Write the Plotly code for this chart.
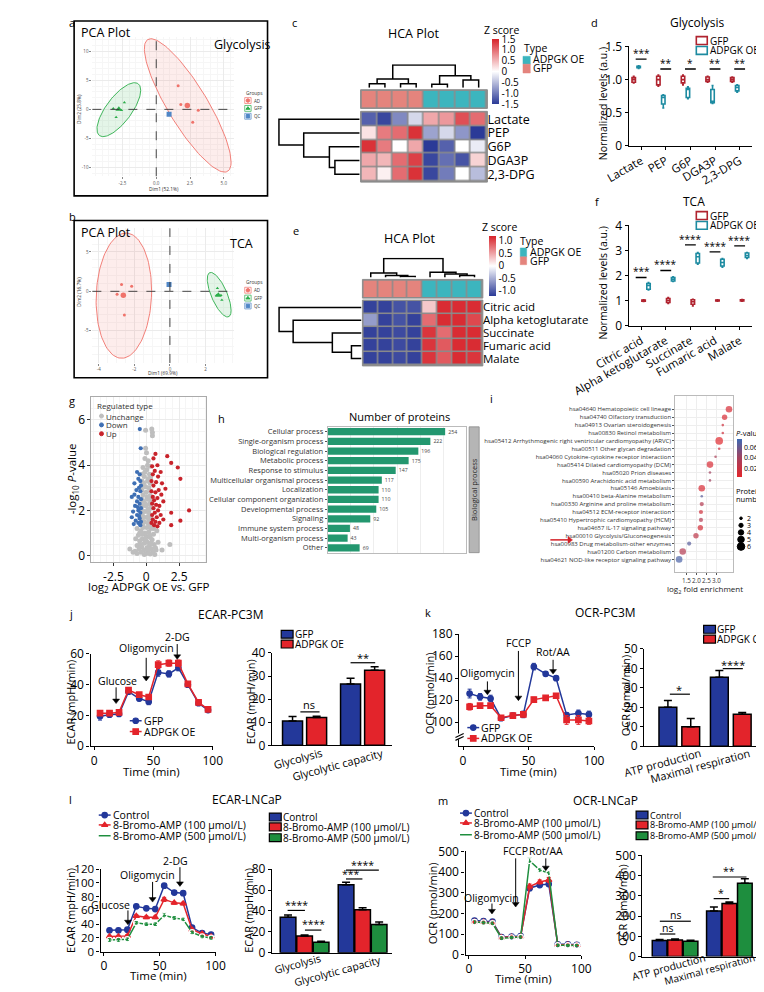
import numpy as np
import plotly.graph_objects as go

W, H = 764, 992
FONT = "Open Sans"

# ======================= DATA =======================
# (a) PCA glycolysis
PCA_A_AD_X = [1.62, 1.82, 3.11, 2.70]
PCA_A_AD_Y = [4.07, 0.85, -0.17, -2.20]
PCA_A_AD_MEAN = [2.30, 0.68]
PCA_A_GFP_X = [-3.18, -2.97, -2.36, -2.57]
PCA_A_GFP_Y = [0.17, -1.36, 1.19, -0.17]
PCA_A_GFP_MEAN = [-2.77, 0.0]
PCA_A_QC = [0.95, -0.85]
PCA_A_ELL_AD = [2.33, 0.68, 3.21, 11.5, -0.85]   # cx, cy, rx, ry, rho
PCA_A_ELL_GFP = [-2.77, -0.05, 1.62, 4.65, 0.72]
# (b) PCA TCA
PCA_B_AD_X = [-2.72, -2.15, -2.97, -2.56]
PCA_B_AD_Y = [0.88, 0.63, -0.38, -3.0]
PCA_B_AD_MEAN = [-2.62, -0.5]
PCA_B_GFP_X = [2.67, 2.62, 2.92, 2.87]
PCA_B_GFP_Y = [0.38, -0.5, -1.1, -0.5]
PCA_B_GFP_MEAN = [2.72, -0.5]
PCA_B_QC = [-0.05, 0.88]
PCA_B_ELL_AD = [-2.59, -0.55, 1.56, 7.95, 0.08]
PCA_B_ELL_GFP = [2.77, -0.43, 0.67, 2.83, -0.7]

# (c) HCA glycolysis
HCA_C_ROWS = ['Lactate', 'PEP', 'G6P', 'DGA3P', '2,3-DPG']
HCA_C_Z = [[-1.2, -1.4, -0.9, -0.3, 0.6, 0.7, 1.2, 1.0],
           [0.2, 0.9, 1.0, 1.4, -0.7, -0.3, -0.8, -1.5],
           [1.4, 0.9, 0.0, 0.6, -1.5, -1.2, 0.0, -0.15],
           [0.6, 0.5, 1.0, 1.3, -1.4, -1.1, -1.3, 0.3],
           [0.5, 0.1, 1.0, 1.4, -1.4, -1.0, 0.0, -0.5]]
HCA_TYPES = [0, 0, 0, 0, 1, 1, 1, 1]   # 0 = GFP, 1 = ADPGK OE
HCA_C_COL_LINK = [(0, 1, 4.3), (2, 3, 4.3), (8, 9, 9.3), (4, 5, 3.7), (6, 7, 8.3), (11, 12, 12.7), (10, 13, 24.3)]
HCA_C_ROW_LINK = [(3, 4, 27), (2, 5, 33), (1, 6, 61), (0, 7, 88)]
# (e) HCA TCA
HCA_E_ROWS = ['Citric acid', 'Alpha ketoglutarate', 'Succinate', 'Fumaric acid', 'Malate']
HCA_E_Z = [[-1.15, -1.15, -1.05, -1.05, 0.3, 1.15, 1.15, 1.15],
           [-0.6, -1.15, -1.05, -1.15, 0.8, 1.15, 1.15, 1.0],
           [-1.15, -1.15, -1.1, -1.15, 1.1, 0.8, 1.15, 1.15],
           [-1.15, -1.15, -1.1, -1.15, 1.1, 0.9, 1.15, 1.15],
           [-1.15, -1.15, -1.1, -1.15, 1.1, 0.9, 1.15, 1.1]]
HCA_E_COL_LINK = [(2, 3, 1.3), (1, 8, 2.3), (0, 9, 5.5), (6, 7, 2.3), (5, 11, 4.3), (4, 12, 6.3), (10, 13, 23)]
HCA_E_ROW_LINK = [(3, 4, 10), (2, 5, 29), (1, 6, 68), (0, 7, 82)]

# (d) glycolysis box stats
GLY_CATS = ['Lactate', 'PEP', 'G6P', 'DGA3P', '2,3-DPG']
GLY_GFP = dict(q1=[0.96, 0.92, 0.95, 0.97, 0.97], med=[1.0, 1.0, 1.0, 1.0, 1.0], q3=[1.03, 1.05, 1.05, 1.04, 1.03],
               lo=[0.95, 0.90, 0.92, 0.96, 0.96], hi=[1.05, 1.07, 1.07, 1.05, 1.04])
GLY_OE = dict(q1=[1.18, 0.63, 0.73, 0.65, 0.83], med=[1.19, 0.73, 0.85, 0.67, 0.88], q3=[1.2, 0.76, 0.87, 0.85, 0.91],
              lo=[1.17, 0.57, 0.71, 0.64, 0.81], hi=[1.21, 0.77, 0.89, 0.91, 0.92])
GLY_SIG = ['***', '**', '*', '**', '**']
GLY_SIG_Y = [1.31, 1.16, 1.16, 1.16, 1.16]
# (f) TCA box stats
TCA_CATS = ['Citric acid', 'Alpha ketoglutarate', 'Succinate', 'Fumaric acid', 'Malate']
TCA_GFP = dict(q1=[0.97, 0.92, 0.85, 0.98, 0.98], med=[1.0, 1.0, 0.95, 1.0, 1.0], q3=[1.02, 1.08, 1.03, 1.02, 1.03],
               lo=[0.96, 0.88, 0.78, 0.97, 0.97], hi=[1.03, 1.12, 1.05, 1.03, 1.04])
TCA_OE = dict(q1=[1.45, 1.78, 2.5, 2.38, 2.72], med=[1.6, 1.85, 2.75, 2.52, 2.8], q3=[1.68, 1.92, 2.88, 2.65, 2.9],
              lo=[1.42, 1.76, 2.45, 2.33, 2.68], hi=[1.72, 1.95, 2.92, 2.68, 2.92])
TCA_SIG = ['***', '****', '****', '****', '****']
TCA_SIG_Y = [1.92, 2.2, 3.22, 2.94, 3.18]

# (g) volcano
VOLC_UNCH_X = [-0.05, 0.42, 0.47, 0.47, -0.05, 0.02, -0.1, 0.15, 0.1, -0.25, 0.3, 0.05, -0.3, 0.25, -0.15, 0.33, -0.32, 0.1,
               0.3, -0.3, -0.05, 0.2, -0.33, 0.33, 0.0, -0.25, 0.3, -0.32, 0.1, 0.33, -0.2, 0.25, -0.3, 0.0, 0.32, -0.33,
               -0.1, 0.2, -0.3, 0.32, 0.05, -0.33, 0.3, -0.15, 0.15, -0.25, 0.28, -0.1, 0.15, -0.2, 0.05, -0.1, 0.15, -0.2,
               0.2, -0.25, 0.05, 0.35, -0.4, 0.2, -0.1, 0.55, -0.6, 0.0, 0.3, -0.3, 0.45, -0.5, 0.1, -0.15, 0.6, -0.7,
               0.25, -0.35, 0.05, 0.4, -0.55, -0.2, 0.75, -0.85, 0.15, 0.5, -0.4, 0.0, -0.7, 0.3, -0.15, 0.65, -1.25,
               1.8, 1.2, -1.0, 0.9, -0.8, 0.8, -0.7, 0.55, -0.5, 0.7, -0.3, 0.25, -0.05, 0.15, -0.45, 0.35]
VOLC_UNCH_Y = [5.55, 5.6, 5.45, 5.3, 4.75, 4.55, 4.3, 4.2, 4.0, 3.9, 3.95, 3.8, 3.6, 3.6, 3.5, 3.45, 3.3, 3.3, 3.2, 3.1, 3.05,
               3.0, 2.9, 2.85, 2.8, 2.7, 2.65, 2.5, 2.5, 2.45, 2.4, 2.3, 2.2, 2.2, 2.1, 2.0, 1.95, 1.9, 1.8, 1.75, 1.7, 1.6,
               1.55, 1.5, 1.45, 1.4, 1.35, 3.7, 3.4, 3.2, 2.6, 2.3, 2.05, 1.7, 1.6, 1.25, 1.25, 1.2, 1.1, 1.05, 1.0, 0.95,
               0.9, 0.85, 0.8, 0.75, 0.7, 0.65, 0.6, 0.55, 0.5, 0.45, 0.45, 0.4, 0.35, 0.3, 0.3, 0.25, 0.25, 0.2, 0.2,
               0.15, 0.15, 0.1, 0.1, 0.08, 0.05, 0.05, 0.3, 0.5, 0.25, 0.15, 0.6, 0.75, 1.1, 1.2, 1.2, 1.0, 0.35, 0.95,
               0.9, 0.7, 0.3, 0.5, 0.55]
VOLC_DOWN_X = [-0.49, -0.42, -0.7, -0.5, -0.6, -0.45, -0.9, -0.4, -0.55, -0.75, -0.45, -0.9, -0.6, -1.1, -0.4, -0.7, -0.5,
               -0.85, -0.4, -0.6, -1.0, -0.45, -0.7, -1.1, -0.5, -0.8, -0.4, -0.6, -0.95, -0.45, -0.55, -0.65]
VOLC_DOWN_Y = [5.6, 4.75, 3.7, 3.6, 3.4, 3.3, 3.2, 3.1, 3.0, 2.9, 2.85, 2.7, 2.6, 2.6, 2.5, 2.4, 2.3, 2.2, 2.1, 2.0, 1.95,
               1.9, 1.8, 1.7, 1.65, 1.55, 1.5, 1.45, 1.4, 1.35, 1.75, 2.15]
VOLC_UP_X = [0.7, 1.6, 0.55, 1.9, 0.85, 0.45, 2.4, 0.65, 1.1, 0.5, 0.9, 2.6, 0.4, 0.75, 1.2, 0.55, 1.46, 0.95, 0.4, 0.7,
             1.15, 0.5, 0.85, 0.6, 1.3, 0.45, 0.75, 1.0, 0.55, 3.26, 0.9, 1.9, 0.65, 0.45, 1.1, 0.8, 0.5, 2.6, 0.7, 0.4,
             1.0, 1.9, 0.6, 0.85, 1.3]
VOLC_UP_Y = [4.5, 4.4, 4.3, 4.1, 4.0, 3.95, 3.9, 3.75, 3.7, 3.6, 3.5, 3.4, 3.3, 3.25, 3.2, 3.1, 2.96, 2.9, 2.85, 2.8, 2.7,
             2.6, 2.55, 2.45, 2.4, 2.3, 2.25, 2.2, 2.1, 2.0, 2.0, 1.9, 1.9, 1.8, 1.8, 1.7, 1.6, 1.55, 1.5, 1.45, 1.45,
             1.35, 1.35, 1.3, 1.6]

# (h) GO bars
GO_CATS = ['Cellular process', 'Single-organism process', 'Biological regulation', 'Metabolic process',
           'Response to stimulus', 'Multicellular organismal process', 'Localization',
           'Cellular component organization', 'Developmental process', 'Signaling', 'Immune system process',
           'Multi-organism process', 'Other']
GO_VALS = [254, 222, 196, 175, 147, 117, 110, 110, 105, 92, 48, 43, 69]

# (i) KEGG dot plot
KEGG_TERMS = ['hsa04640 Hematopoietic cell lineage', 'hsa04740 Olfactory transduction',
              'hsa04913 Ovarian steroidogenesis', 'hsa00830 Retinol metabolism',
              'hsa05412 Arrhythmogenic right ventricular cardiomyopathy (ARVC)', 'hsa00511 Other glycan degradation',
              'hsa04060 Cytokine-cytokine receptor interaction', 'hsa05414 Dilated cardiomyopathy (DCM)',
              'hsa05020 Prion diseases', 'hsa00590 Arachidonic acid metabolism', 'hsa05146 Amoebiasis',
              'hsa00410 beta-Alanine metabolism', 'hsa00330 Arginine and proline metabolism',
              'hsa04512 ECM-receptor interaction', 'hsa05410 Hypertrophic cardiomyopathy (HCM)',
              'hsa04657 IL-17 signaling pathway', 'hsa00010 Glycolysis/Gluconeogenesis',
              'hsa00983 Drug metabolism-other enzymes', 'hsa01200 Carbon metabolism',
              'hsa04621 NOD-like receptor signaling pathway']
KEGG_FE = [3.63, 3.41, 3.32, 3.32, 3.14, 3.14, 2.96, 2.68, 2.68, 2.68, 2.27, 2.27, 2.27, 2.23, 2.23, 2.2, 1.98, 1.64,
           1.32, 1.14]
KEGG_P = [0.01, 0.01, 0.015, 0.015, 0.005, 0.015, 0.035, 0.01, 0.04, 0.04, 0.01, 0.065, 0.03, 0.015, 0.03, 0.012,
          0.025, 0.065, 0.03, 0.07]
KEGG_N = [5, 4, 2, 2, 6, 2, 2, 5, 2, 2, 5, 2, 3, 3, 3, 4, 4, 3, 5, 5]

# Seahorse time points
TIME = [5, 13, 21, 29, 38, 46, 54, 63, 71, 79, 88, 96]
# (j) ECAR-PC3M
ECAR_PC3M_GFP = [19.5, 20.5, 21, 35.5, 31, 29, 48, 47, 51, 40, 28, 23.5]
ECAR_PC3M_GFP_ERR = [2.5, 1.5, 1.5, 1.5, 1.5, 2, 2.5, 2, 2, 1.5, 1.5, 1.5]
ECAR_PC3M_OE = [21.5, 21.5, 22, 36.5, 33.5, 32, 53, 54, 54, 40.5, 28.5, 24]
ECAR_PC3M_OE_ERR = [1.5, 1, 1, 1.5, 1, 1.5, 2.5, 2, 2, 1, 1, 1]
ECAR_BAR_CATS = ['Glycolysis', 'Glycolytic capacity']
ECAR_BAR_GFP = [10.5, 26.5]
ECAR_BAR_GFP_ERR = [2.0, 2.5]
ECAR_BAR_OE = [12.0, 32.5]
ECAR_BAR_OE_ERR = [0.6, 1.5]
# (k) OCR-PC3M
OCR_PC3M_GFP = [126, 123, 121.5, 103.5, 106, 107, 150.5, 144, 140, 106.5, 108, 107]
OCR_PC3M_GFP_ERR = [4, 3, 3, 2, 2, 3, 3, 2, 2, 2, 3, 3]
OCR_PC3M_OE = [114, 115, 115, 104, 106, 107, 120.5, 122, 124, 102, 102, 101]
OCR_PC3M_OE_ERR = [3, 2, 2, 2, 2, 2, 2, 2, 2, 4, 4, 3]
OCR_BAR_CATS = ['ATP production', 'Maximal respiration']
OCR_BAR_GFP = [20.0, 35.5]
OCR_BAR_GFP_ERR = [3.5, 3.5]
OCR_BAR_OE = [10.0, 16.5]
OCR_BAR_OE_ERR = [4.3, 0.8]
# (l) ECAR-LNCaP
ECAR_LN_CTRL = [31, 31, 32, 66, 63, 62, 96, 86, 85, 35, 27, 25]
ECAR_LN_100 = [22, 22, 23, 52, 50, 50, 76, 71, 70, 32, 26, 22]
ECAR_LN_500 = [17, 17, 18, 42, 40, 40, 53, 49, 47, 28, 22, 20]
ECAR_LN_ERR = [2, 2, 2, 2, 2, 2, 3, 2, 2, 2, 2, 2]
ECAR_LN_BAR_CTRL = [34, 65]
ECAR_LN_BAR_100 = [16, 41]
ECAR_LN_BAR_500 = [10, 27]
ECAR_LN_BAR_ERR = [[2, 2.5], [1, 2], [1, 2.5]]
# (m) OCR-LNCaP
OCR_LN_CTRL = [165, 163, 160, 85, 88, 90, 322, 337, 342, 50, 50, 48]
OCR_LN_100 = [160, 158, 155, 83, 86, 88, 330, 352, 362, 48, 48, 46]
OCR_LN_500 = [158, 155, 152, 80, 83, 85, 455, 410, 395, 45, 45, 44]
OCR_LN_ERR = [10, 8, 8, 6, 6, 6, 12, 10, 12, 5, 5, 5]
OCR_LN_BAR_CTRL = [80, 225]
OCR_LN_BAR_100 = [82, 262]
OCR_LN_BAR_500 = [76, 362]
OCR_LN_BAR_ERR = [[5, 20], [5, 8], [5, 22]]

# ======================= HELPERS =======================
fig = go.Figure()
L = {}
ANN = []
SHP = []


def fx(p):
    return p / W


def fy(p):
    return 1 - p / H


def xn(n):
    return 'x' if n == 1 else 'x%d' % n


def yn(n):
    return 'y' if n == 1 else 'y%d' % n


def axes(n, x0, x1, y0, y1, xa=None, ya=None):
    L['xaxis' if n == 1 else 'xaxis%d' % n] = dict(domain=[fx(x0), fx(x1)], anchor=yn(n), **(xa or {}))
    L['yaxis' if n == 1 else 'yaxis%d' % n] = dict(domain=[fy(y1), fy(y0)], anchor=xn(n), **(ya or {}))


def add(tr, n):
    tr.update(xaxis=xn(n), yaxis=yn(n))
    fig.add_trace(tr)


def txt(x, y, s, size=11, color='black', xa='center', ya='middle', angle=0):
    ANN.append(dict(x=fx(x), y=fy(y), xref='paper', yref='paper', text=s, showarrow=False,
                    font=dict(size=size, color=color, family=FONT), xanchor=xa, yanchor=ya, textangle=angle,
                    borderpad=0))


def rect(x0, y0, x1, y1, line='black', width=1.0, fill='rgba(0,0,0,0)', layer='above'):
    SHP.append(dict(type='rect', xref='paper', yref='paper', x0=fx(x0), x1=fx(x1), y0=fy(y0), y1=fy(y1),
                    line=dict(color=line, width=width), fillcolor=fill, layer=layer))


def seg(x0, y0, x1, y1, color='black', width=1.0, dash=None):
    SHP.append(dict(type='line', xref='paper', yref='paper', x0=fx(x0), x1=fx(x1), y0=fy(y0), y1=fy(y1),
                    line=dict(color=color, width=width, dash=dash)))


HID = dict(visible=False, showgrid=False, zeroline=False)
TICKF = dict(size=12, family=FONT, color='black')


def gp(**kw):
    base = dict(showline=True, linecolor='black', linewidth=1.4, ticks='outside', ticklen=3, tickwidth=1.4,
                tickcolor='black', showgrid=False, zeroline=False, tickfont=TICKF)
    base.update(kw)
    return base


BARX = dict(showticklabels=False, ticks='')

CANVAS = 30
axes(CANVAS, 0, W, 0, H, dict(HID, range=[0, W]), dict(HID, range=[H, 0]))


def cmark(x, y, symbol, color, size, lw=1, fill=None):
    add(go.Scatter(x=[x], y=[y], mode='markers', marker=dict(symbol=symbol, color=fill or color, size=size,
                                                              line=dict(color=color, width=lw)),
                   hoverinfo='skip', showlegend=False), CANVAS)


def arrow(x, ytop, ytip, color='black'):
    seg(x, ytop, x, ytip - 3, color=color, width=1)
    cmark(x, ytip - 2.5, 'triangle-down', color, 6, 0.5)


def leg_line(x0, y, color, symbol, label, size=5.5, fs=10.5):
    seg(x0, y, x0 + 13, y, color=color, width=1.5)
    cmark(x0 + 6.5, y, symbol, color, size, 1.2, 'white' if 'open' in symbol else None)
    txt(x0 + 14, y, label, size=fs, xa='left')


def leg_box(x0, y, fill, label, fs=10.5):
    rect(x0, y - 4, x0 + 13, y + 4, line='black', width=1.2, fill=fill)
    txt(x0 + 14, y, label, size=fs, xa='left')


def ellipse(p):
    t = np.linspace(0, 2 * np.pi, 120)
    cx, cy, rx, ry, rho = p
    return cx + rx * np.cos(t), cy + ry * (rho * np.cos(t) + np.sqrt(1 - rho ** 2) * np.sin(t))


def dendro(links, n):
    pos = list(range(n))
    hts = [0.0] * n
    xs, ys = [], []
    for a, b, h in links:
        xs += [pos[a], pos[a], pos[b], pos[b], None]
        ys += [hts[a], h, h, hts[b], None]
        pos.append((pos[a] + pos[b]) / 2)
        hts.append(h)
    return xs, ys


RED_G, GREEN_G, BLUE_G = '#F0736B', '#2BAE4A', '#4F86C6'


# ======================= (a)/(b) PCA =======================
def pca_panel(n, box, dom, xr, yr, xt, xtt, yt, ytt, ell_ad, ell_gfp, adx, ady, admean, gfx, gfy, gfmean, qc,
              title, dimx, dimy, dimx_pos, dimy_pos, leg_y):
    rect(*box, line='black', width=1.6)
    tick = dict(showgrid=True, gridcolor='#EBEBEB', gridwidth=0.8, zeroline=False, showline=False, ticks='outside',
                ticklen=2, tickcolor='#888', tickwidth=0.6, tickfont=dict(size=4.5, color='#555', family=FONT),
                minor=dict(showgrid=True, gridcolor='#F6F6F6'))
    axes(n, *dom, xa=dict(tick, range=xr, tickvals=xt, ticktext=xtt),
         ya=dict(tick, range=yr, tickvals=yt, ticktext=ytt))
    for p, col, fill in [(ell_ad, RED_G, 'rgba(240,115,107,0.13)'), (ell_gfp, GREEN_G, 'rgba(43,174,74,0.13)')]:
        ex, ey = ellipse(p)
        add(go.Scatter(x=ex, y=ey, mode='lines', fill='toself', fillcolor=fill, line=dict(color=col, width=0.9),
                       hoverinfo='skip', showlegend=False), n)
    xr_ref, yr_ref = xn(n), yn(n)
    SHP.append(dict(type='line', xref=xr_ref, yref=yr_ref + ' domain', x0=0, x1=0, y0=0, y1=1,
                    line=dict(color='#333', width=0.9, dash='dash')))
    SHP.append(dict(type='line', xref=xr_ref + ' domain', yref=yr_ref, x0=0, x1=1, y0=0, y1=0,
                    line=dict(color='#333', width=0.9, dash='dash')))
    add(go.Scatter(x=adx, y=ady, mode='markers', marker=dict(color=RED_G, size=3), showlegend=False), n)
    add(go.Scatter(x=[admean[0]], y=[admean[1]], mode='markers', marker=dict(color=RED_G, size=5.5),
                   showlegend=False), n)
    add(go.Scatter(x=gfx, y=gfy, mode='markers', marker=dict(color=GREEN_G, size=3, symbol='triangle-up'),
                   showlegend=False), n)
    add(go.Scatter(x=[gfmean[0]], y=[gfmean[1]], mode='markers',
                   marker=dict(color=GREEN_G, size=6, symbol='triangle-up'), showlegend=False), n)
    add(go.Scatter(x=[qc[0]], y=[qc[1]], mode='markers', marker=dict(color=BLUE_G, size=5, symbol='square'),
                   showlegend=False), n)
    txt(box[0] + 6, box[1] + 12, 'PCA Plot', size=12.5, xa='left')
    txt(title[1], title[2], title[0], size=12.5, xa='left')
    txt(dimx_pos[0], dimx_pos[1], dimx, size=4.8, color='#333')
    txt(dimy_pos[0], dimy_pos[1], dimy, size=4.8, color='#333', angle=-90)
    txt(197, leg_y, 'Groups', size=4.8, color='#333', xa='left')
    for i, (col, sym, lab) in enumerate([(RED_G, 'circle', 'AD'), (GREEN_G, 'triangle-up', 'GFP'),
                                         (BLUE_G, 'square', 'QC')]):
        yy = leg_y + 8 + 8 * i
        rect(197, yy - 3, 204, yy + 3, line=col, width=0.7)
        cmark(200.5, yy, sym, col, 3.5)
        txt(206, yy, lab, size=4.5, color='#333', xa='left')


pca_panel(1, (10, 4, 222, 182), (30, 185, 20, 162), [-4.73, 5.74], [-11.53, 12.54],
          [-2.5, 0, 2.5, 5], ['-2.5', '0.0', '2.5', '5.0'], [-10, -5, 0, 5, 10], ['-10', '-5', '0', '5', '10'],
          PCA_A_ELL_AD, PCA_A_ELL_GFP, PCA_A_AD_X, PCA_A_AD_Y, PCA_A_AD_MEAN, PCA_A_GFP_X, PCA_A_GFP_Y,
          PCA_A_GFP_MEAN, PCA_A_QC, ('Glycolysis', 162, 28), 'Dim1 (52.1%)', 'Dim2 (25.8%)', (108, 175),
          (16, 94), 77)
pca_panel(2, (10, 207, 222, 367), (30, 185, 215, 352), [-4.36, 3.59], [-9.1, 8.0],
          [-4, -2, 0, 2], ['-4', '-2', '0', '2'], [-5, 0, 5], ['-5', '0', '5'],
          PCA_B_ELL_AD, PCA_B_ELL_GFP, PCA_B_AD_X, PCA_B_AD_Y, PCA_B_AD_MEAN, PCA_B_GFP_X, PCA_B_GFP_Y,
          PCA_B_GFP_MEAN, PCA_B_QC, ('TCA', 180, 230), 'Dim1 (69.9%)', 'Dim2 (16.7%)', (107, 362),
          (16, 280), 270)
txt(3, 6, 'a', size=11, xa='left')
txt(3, 203, 'b', size=11, xa='left')

# ======================= (c)/(e) HCA =======================
HM_CS = [[0, '#2B3A97'], [0.5, '#FFFFFF'], [1, '#D7232A']]
TYPE_CS = [[0, '#E4847D'], [0.5, '#E4847D'], [0.5, '#3CB5BE'], [1, '#3CB5BE']]


def hca_panel(nm, nt, ncd, nrd, x0, x1, ty0, ty1, hy0, hy1, cdy0, rdx0, rows, z, zr, ticks, colink, rowlink,
              cbar, rowfont):
    nrow = len(rows)
    rect(x0 - 1, hy0 - 1, x1 + 1, hy1 + 1, line='#8C8C8C', width=1, fill='#8C8C8C', layer='below')
    rect(x0 - 1, ty0 - 1, x1 + 1, ty1 + 1, line='#8C8C8C', width=1, fill='#8C8C8C', layer='below')
    axes(nm, x0, x1, hy0, hy1, dict(HID, range=[-0.5, 7.5]),
         dict(range=[nrow - 0.5, -0.5], side='right', tickvals=list(range(nrow)), ticktext=rows, ticks='',
              showgrid=False, zeroline=False, showline=False,
              tickfont=dict(size=rowfont, family=FONT, color='black')))
    add(go.Heatmap(z=z, x=list(range(8)), y=list(range(nrow)), colorscale=HM_CS, zmin=-zr, zmax=zr, xgap=1.5,
                   ygap=1.5, hoverinfo='skip',
                   colorbar=dict(x=fx(cbar[0]), xanchor='left', xpad=0, ypad=0, thickness=7, lenmode='pixels',
                                 len=cbar[2] - cbar[1], y=fy((cbar[1] + cbar[2]) / 2), yanchor='middle',
                                 tickvals=ticks, ticktext=[('%g' % v if v == 0 else '%.1f' % v) for v in ticks],
                                 ticks='', outlinewidth=0, tickfont=dict(size=10, family=FONT))), nm)
    axes(nt, x0, x1, ty0, ty1, dict(HID, range=[-0.5, 7.5]), dict(HID, range=[-0.5, 0.5]))
    add(go.Heatmap(z=[HCA_TYPES], x=list(range(8)), y=[0], colorscale=TYPE_CS, zmin=0, zmax=1, xgap=1.5,
                   showscale=False, hoverinfo='skip'), nt)
    cx, cy = dendro(colink, 8)
    top = max(h for _, _, h in colink)
    axes(ncd, x0, x1, cdy0, ty0 - 3, dict(HID, range=[-0.5, 7.5]), dict(HID, range=[0, top + 0.8]))
    add(go.Scatter(x=cx, y=cy, mode='lines', line=dict(color='black', width=1.5), hoverinfo='skip',
                   showlegend=False), ncd)
    rx_, ry_ = dendro(rowlink, nrow)
    rtop = max(h for _, _, h in rowlink)
    axes(nrd, rdx0, x0 - 2, hy0, hy1, dict(HID, range=[rtop + 1.5, 0]), dict(HID, range=[nrow - 0.5, -0.5]))
    add(go.Scatter(x=ry_, y=rx_, mode='lines', line=dict(color='black', width=1.5), hoverinfo='skip',
                   showlegend=False), nrd)


hca_panel(3, 4, 5, 6, 325, 462, 75, 92, 97, 167, 48, 233, HCA_C_ROWS, HCA_C_Z, 1.5,
          [1.5, 1.0, 0.5, 0, -0.5, -1.0, -1.5], HCA_C_COL_LINK, HCA_C_ROW_LINK, (468, 23, 88), 12.5)
txt(248, 6, 'c', size=11, xa='left')
txt(382, 17, 'HCA Plot', size=12.5)
txt(458, 13, 'Z score', size=10.5, xa='left')
txt(502, 32, 'Type', size=10.5, xa='left')
rect(502, 40, 510, 48, line='#3CB5BE', width=0.5, fill='#3CB5BE')
rect(502, 48, 510, 57, line='#E4847D', width=0.5, fill='#E4847D')
txt(512, 43, 'ADPGK OE', size=10.5, xa='left')
txt(512, 52, 'GFP', size=10.5, xa='left')

hca_panel(8, 9, 10, 11, 327, 457, 268, 285, 289, 354, 245, 233, HCA_E_ROWS, HCA_E_Z, 1.2,
          [1.0, 0.5, 0, -0.5, -1.0], HCA_E_COL_LINK, HCA_E_ROW_LINK, (465, 223, 283), 11.5)
txt(249, 217, 'e', size=11, xa='left')
txt(378, 225, 'HCA Plot', size=12.5)
txt(456, 214, 'Z score', size=10.5, xa='left')
txt(498, 228, 'Type', size=10.5, xa='left')
rect(499, 235, 506, 244, line='#3CB5BE', width=0.5, fill='#3CB5BE')
rect(499, 244, 506, 252, line='#E4847D', width=0.5, fill='#E4847D')
txt(509, 239, 'ADPGK OE', size=10.5, xa='left')
txt(509, 248, 'GFP', size=10.5, xa='left')

# ======================= (d)/(f) box plots =======================
C_GFP, C_OE = '#B0232F', '#1D8BA1'


def box_panel(n, y0, y1, cats, gfp, oe, yr, yt, ytt, sig, sigy, title, tpos, letter, lpos, leg_y):
    axes(n, 618, 753, y0, y1,
         gp(range=[-0.5, 4.5], tickvals=list(range(5)), ticktext=cats, tickangle=-30,
            tickfont=dict(size=11.5, family=FONT, color='black')),
         gp(range=yr, tickvals=yt, ticktext=ytt))
    for d, col, nm in [(gfp, C_GFP, 'GFP'), (oe, C_OE, 'ADPGK OE')]:
        add(go.Box(x=list(range(5)), q1=d['q1'], median=d['med'], q3=d['q3'], lowerfence=d['lo'],
                   upperfence=d['hi'], name=nm, line=dict(color=col, width=1.6), fillcolor='white',
                   whiskerwidth=0.6, boxpoints=False, hoverinfo='skip', showlegend=False), n)
    for i, (s, yv) in enumerate(zip(sig, sigy)):
        SHP.append(dict(type='line', xref=xn(n), yref=yn(n), x0=i - 0.22, x1=i + 0.22, y0=yv, y1=yv,
                        line=dict(color='black', width=1.3)))
        ANN.append(dict(x=i, y=yv, xref=xn(n), yref=yn(n), text=s, showarrow=False, yanchor='bottom',
                        font=dict(size=10, family=FONT), yshift=-3))
    txt(tpos[0], tpos[1], title, size=12)
    txt(lpos[0], lpos[1], letter, size=11, xa='left')
    txt(590, (y0 + y1) / 2 + 8, 'Normalized levels (a.u.)', size=10.5, angle=-90)
    rect(692, leg_y - 4, 704, leg_y + 4, line=C_GFP, width=1.6)
    rect(692, leg_y + 6, 704, leg_y + 14, line=C_OE, width=1.6)
    txt(706, leg_y, 'GFP', size=10, xa='left')
    txt(706, leg_y + 10, 'ADPGK OE', size=10, xa='left')


box_panel(7, 30, 131, GLY_CATS, GLY_GFP, GLY_OE, [0, 1.5], [0, 0.5, 1, 1.5], ['0', '0.5', '1.0', '1.5'],
          GLY_SIG, GLY_SIG_Y, 'Glycolysis', (693, 6), 'd', (575, 6), 24)
box_panel(12, 212, 314, TCA_CATS, TCA_GFP, TCA_OE, [0, 4], [0, 1, 2, 3, 4], ['0', '1', '2', '3', '4'],
          TCA_SIG, TCA_SIG_Y, 'TCA', (690, 188), 'f', (580, 188), 202)

# ======================= (g) volcano =======================
bw = dict(showgrid=True, gridcolor='#EBEBEB', zeroline=False, showline=True, mirror=True, linecolor='#AAAAAA',
          linewidth=1, ticks='outside', ticklen=3, tickcolor='#333', tickfont=dict(size=12, family=FONT),
          minor=dict(showgrid=True, gridcolor='#F5F5F5'))
axes(13, 29, 155, 387, 555, dict(bw, range=[-4.17, 4.58], tickvals=[-2.5, 0, 2.5], ticktext=['-2.5', '0', '2.5']),
     dict(bw, range=[-0.3, 7.0], tickvals=[0, 2, 4, 6]))
add(go.Scatter(x=VOLC_UNCH_X, y=VOLC_UNCH_Y, mode='markers', marker=dict(color='#BEBEBE', size=5),
               hoverinfo='skip', showlegend=False), 13)
add(go.Scatter(x=VOLC_DOWN_X, y=VOLC_DOWN_Y, mode='markers', marker=dict(color='#3E6FB4', size=4.2),
               hoverinfo='skip', showlegend=False), 13)
add(go.Scatter(x=VOLC_UP_X, y=VOLC_UP_Y, mode='markers', marker=dict(color='#C8232B', size=4.2),
               hoverinfo='skip', showlegend=False), 13)
txt(3, 390, 'g', size=11, xa='left')
txt(92, 580, 'log<sub>2</sub> ADPGK OE vs. GFP', size=11.5)
txt(8, 470, '-log<sub>10</sub> <i>P</i>-value', size=11.5, angle=-90)
txt(34, 395, 'Regulated type', size=8, color='#333', xa='left')
for i, (col, lab) in enumerate([('#BEBEBE', 'Unchange'), ('#3E6FB4', 'Down'), ('#C8232B', 'Up')]):
    cmark(40, 406 + 9 * i, 'circle', col, 4)
    txt(44, 406 + 9 * i, lab, size=8, color='#333', xa='left')

# ======================= (h) GO bars =======================
axes(14, 288, 440, 417, 545,
     dict(range=[0, 300], showgrid=True, gridcolor='#EEEEEE', showticklabels=False, ticks='', showline=True,
          mirror=True, linecolor='#BBBBBB', zeroline=False, dtick=50),
     dict(categoryorder='array', categoryarray=GO_CATS, autorange='reversed', showline=True, mirror=True,
          linecolor='#BBBBBB', ticks='outside', ticklen=2, tickcolor='#555', showgrid=False,
          tickfont=dict(size=7.5, family=FONT, color='#333')))
add(go.Bar(x=GO_VALS, y=GO_CATS, orientation='h', marker=dict(color='#23976F', line=dict(width=0)), width=0.75,
           text=[str(v) for v in GO_VALS], textposition='outside', textfont=dict(size=6.5, color='#444'),
           cliponaxis=False, hoverinfo='skip', showlegend=False), 14)
rect(443, 417, 454, 545, line='#8A8A8A', width=0.8, fill='#B5B5B5')
txt(448.5, 481, 'Biological process', size=7.5, color='#222', angle=-90)
txt(367, 406, 'Number of proteins', size=11)
txt(167, 408, 'h', size=11, xa='left')

# ======================= (i) KEGG dots =======================
SIZE_PX = {2: 2.6, 3: 4.2, 4: 5.4, 5: 6.6, 6: 7.6}
axes(15, 669, 732, 386, 565,
     dict(range=[0.95, 3.82], tickvals=[1.5, 2.0, 2.5, 3.0], ticktext=['1.5', '2.0', '2.5', '3.0'], tickangle=0,
          showgrid=True, gridcolor='#EEEEEE', showline=True, mirror=True, linecolor='#BBBBBB', zeroline=False,
          ticks='outside', ticklen=2, tickcolor='#555', tickfont=dict(size=6.3, family=FONT, color='#333')),
     dict(categoryorder='array', categoryarray=KEGG_TERMS, autorange='reversed', showgrid=True,
          gridcolor='#EEEEEE', showline=True, mirror=True, linecolor='#BBBBBB', ticks='outside', ticklen=2,
          tickcolor='#555', tickfont=dict(size=6, family=FONT, color='#333')))
add(go.Scatter(x=KEGG_FE, y=KEGG_TERMS, mode='markers', hoverinfo='skip', showlegend=False,
               marker=dict(size=[SIZE_PX[v] for v in KEGG_N], color=KEGG_P, cmin=0.003, cmax=0.075,
                           colorscale=[[0, '#E3262B'], [0.5, '#A4415E'], [1, '#3B69B3']], line=dict(width=0),
                           showscale=True,
                           colorbar=dict(x=fx(737), xanchor='left', xpad=0, ypad=0, thickness=5, lenmode='pixels',
                                         len=38, y=fy(449), yanchor='middle', tickvals=[0.02, 0.04, 0.06],
                                         ticktext=['0.02', '0.04', '0.06'], ticks='', outlinewidth=0,
                                         tickfont=dict(size=7, family=FONT)))), 15)
txt(465, 388, 'i', size=11, xa='left')
txt(701, 582, 'log<sub>2</sub> fold enrichment', size=8, color='#222')
txt(734, 423, '<i>P</i>-value', size=7.5, xa='left')
txt(734, 482, 'Protein', size=7.5, xa='left')
txt(734, 490, 'number', size=7.5, xa='left')
for i, k in enumerate([2, 3, 4, 5, 6]):
    cmark(741, 510 + 7.2 * i, 'circle', 'black', SIZE_PX[k])
    txt(747, 510 + 7.2 * i, str(k), size=7, xa='left')
seg(532, 532, 552, 532, color='#D42027', width=1.5)
cmark(553, 532, 'triangle-right', '#D42027', 6, 0.5)

# ======================= Seahorse panels =======================
BLUE, RED, GREEN = '#23389A', '#E3242B', '#1E8E3E'


def line_tr(n, y, err, col, sym, open_=False):
    add(go.Scatter(x=TIME, y=y, mode='lines+markers', line=dict(color=col, width=1.5),
                   marker=dict(symbol=sym, size=5.5, color='white' if open_ else col,
                               line=dict(color=col, width=1.2)),
                   error_y=dict(type='data', array=err, color=col, thickness=1, width=2),
                   hoverinfo='skip', showlegend=False), n)


def bar_tr(n, vals, err, col, off, wd):
    add(go.Bar(x=[0, 1], y=vals, width=wd, offset=off, marker=dict(color=col, line=dict(color='black', width=1.5)),
               error_y=dict(type='data', array=err, arrayminus=[0, 0], symmetric=False, color='black',
                            thickness=1.5, width=4),
               hoverinfo='skip', showlegend=False), n)


# (j)
txt(3, 607, 'j', size=11, xa='left')
txt(182, 608, 'ECAR-PC3M', size=12)
axes(16, 28, 162, 648, 742, gp(range=[-3, 100], tickvals=[0, 50, 100]), gp(range=[0, 60], tickvals=[0, 20, 40, 60]))
line_tr(16, ECAR_PC3M_GFP, ECAR_PC3M_GFP_ERR, BLUE, 'circle')
line_tr(16, ECAR_PC3M_OE, ECAR_PC3M_OE_ERR, RED, 'square')
txt(6, 697, 'ECAR (mpH/min)', size=11, angle=-90)
txt(95, 768, 'Time (min)', size=11.5)
txt(57, 676, 'Glucose', size=10.5)
arrow(56, 682, 698)
txt(89, 642, 'Oligomycin', size=10.5)
arrow(89, 652, 675)
txt(123, 631, '2-DG', size=10.5)
arrow(123, 638, 653)
leg_line(71, 716, BLUE, 'circle', 'GFP')
leg_line(71, 727, RED, 'square', 'ADPGK OE')

axes(17, 227, 358, 647, 741, gp(range=[-0.56, 1.5], **BARX), gp(range=[0, 40], tickvals=[0, 10, 20, 30, 40]))
bar_tr(17, ECAR_BAR_GFP, ECAR_BAR_GFP_ERR, BLUE, -0.38, 0.345)
bar_tr(17, ECAR_BAR_OE, ECAR_BAR_OE_ERR, RED, 0.035, 0.345)
txt(203, 697, 'ECAR (mpH/min)', size=11, angle=-90)
txt(255, 754, ECAR_BAR_CATS[0], size=11, angle=-15)
txt(299, 761, ECAR_BAR_CATS[1], size=11, angle=-15)
txt(268, 699, 'ns', size=11)
seg(258, 707, 279, 707, width=1.2)
txt(327, 652, '**', size=11)
seg(313, 657, 340, 657, width=1.2)
leg_box(237, 628, BLUE, 'GFP', fs=10)
leg_box(237, 638, RED, 'ADPGK OE', fs=10)

# (k)
txt(393, 606, 'k', size=11, xa='left')
txt(592, 606, 'OCR-PC3M', size=12)
axes(18, 432, 580, 628, 742, gp(range=[-3, 100], tickvals=[0, 50, 100]),
     gp(range=[78, 180], tickvals=[100, 120, 140, 160, 180]))
line_tr(18, OCR_PC3M_GFP, OCR_PC3M_GFP_ERR, BLUE, 'circle')
line_tr(18, OCR_PC3M_OE, OCR_PC3M_OE_ERR, RED, 'square')
rect(428, 729, 437, 735, line='white', width=0, fill='white')
seg(428, 733, 437, 729, width=1.2)
seg(428, 736, 437, 732, width=1.2)
txt(399, 688, 'OCR (pmol/min)', size=11, angle=-90)
txt(508, 768, 'Time (min)', size=11.5)
txt(463, 667, 'Oligomycin', size=10.5)
arrow(463, 676, 689)
txt(497, 637, 'FCCP', size=10.5)
arrow(497, 645, 695)
txt(535, 646, 'Rot/AA', size=10.5)
arrow(535, 654, 668)
leg_line(441, 723, BLUE, 'circle', 'GFP')
leg_line(441, 734, RED, 'square', 'ADPGK OE')

axes(19, 635, 758, 643, 742, gp(range=[-0.68, 1.5], **BARX), gp(range=[0, 50], tickvals=[0, 10, 20, 30, 40, 50]))
bar_tr(19, OCR_BAR_GFP, OCR_BAR_GFP_ERR, BLUE, -0.395, 0.346)
bar_tr(19, OCR_BAR_OE, OCR_BAR_OE_ERR, RED, 0.049, 0.346)
txt(614, 690, 'OCR (pmol/min)', size=11, angle=-90)
txt(655, 759, OCR_BAR_CATS[0], size=11, angle=-15)
txt(697, 762, OCR_BAR_CATS[1], size=11, angle=-15)
txt(673, 684, '*', size=11)
seg(663, 689, 685, 689, width=1.2)
txt(732, 659, '****', size=11)
seg(721, 663, 743, 663, width=1.2)
leg_box(700, 623, BLUE, 'GFP', fs=10)
leg_box(700, 633, RED, 'ADPGK OE', fs=10)

# (l)
txt(3, 796, 'l', size=11, xa='left')
txt(199, 796, 'ECAR-LNCaP', size=12)
axes(20, 39, 165, 867, 951, gp(range=[-3, 100], tickvals=[0, 50, 100]),
     gp(range=[0, 120], tickvals=[0, 20, 40, 60, 80, 100, 120], tickfont=dict(size=11.5, family=FONT)))
line_tr(20, ECAR_LN_CTRL, ECAR_LN_ERR, BLUE, 'circle')
line_tr(20, ECAR_LN_100, ECAR_LN_ERR, RED, 'triangle-up')
line_tr(20, ECAR_LN_500, ECAR_LN_ERR, GREEN, 'circle-open', open_=True)
txt(6, 909, 'ECAR (mpH/min)', size=11, angle=-90)
txt(102, 975, 'Time (min)', size=11.5)
txt(50, 903, 'Glucose', size=10.5)
arrow(69, 909, 923)
txt(90, 873, 'Oligomycin', size=10.5)
arrow(96, 880, 900)
txt(121, 859, '2-DG', size=10.5)
arrow(126, 865, 884)
leg_line(37, 812, BLUE, 'circle', 'Control')
leg_line(37, 822, RED, 'triangle-up', '8-Bromo-AMP (100 µmol/L)')
leg_line(37, 833, GREEN, 'circle-open', '8-Bromo-AMP (500 µmol/L)')

axes(21, 227, 358, 867, 952, gp(range=[-0.56, 1.5], **BARX), gp(range=[0, 80], tickvals=[0, 20, 40, 60, 80]))
bar_tr(21, ECAR_LN_BAR_CTRL, ECAR_LN_BAR_ERR[0], BLUE, -0.42, 0.27)
bar_tr(21, ECAR_LN_BAR_100, ECAR_LN_BAR_ERR[1], RED, -0.135, 0.27)
bar_tr(21, ECAR_LN_BAR_500, ECAR_LN_BAR_ERR[2], GREEN, 0.15, 0.27)
txt(201, 909, 'ECAR (mpH/min)', size=11, angle=-90)
txt(255, 964, 'Glycolysis', size=10.5, angle=-15)
txt(299, 971, 'Glycolytic capacity', size=10.5, angle=-15)
txt(254, 903, '****', size=10.5)
seg(244, 909, 263, 909, width=1.2)
txt(272, 923, '****', size=10.5)
seg(263, 929, 281, 929, width=1.2)
txt(314, 872, '***', size=10.5)
seg(308, 877, 326, 877, width=1.2)
txt(326, 863, '****', size=10.5)
seg(308, 868, 344, 868, width=1.2)
leg_box(224, 814, BLUE, 'Control', fs=10)
leg_box(224, 824, RED, '8-Bromo-AMP (100 µmol/L)', fs=10)
leg_box(224, 835, GREEN, '8-Bromo-AMP (500 µmol/L)', fs=10)

# (m)
txt(408, 797, 'm', size=11, xa='left')
txt(593, 797, 'OCR-LNCaP', size=12)
axes(22, 439, 566, 849, 954, gp(range=[-3, 100], tickvals=[0, 50, 100]),
     gp(range=[0, 500], tickvals=[0, 100, 200, 300, 400, 500]))
line_tr(22, OCR_LN_CTRL, OCR_LN_ERR, BLUE, 'circle')
line_tr(22, OCR_LN_100, OCR_LN_ERR, RED, 'triangle-up')
line_tr(22, OCR_LN_500, OCR_LN_ERR, GREEN, 'circle-open', open_=True)
txt(403, 902, 'OCR (pmol/min)', size=11, angle=-90)
txt(503, 978, 'Time (min)', size=11.5)
txt(468, 896, 'Oligomycin', size=10.5)
arrow(468, 902, 912)
txt(494, 849, 'FCCP', size=10.5)
arrow(494, 856, 905)
txt(527, 849, 'Rot/AA', size=10.5)
arrow(527, 856, 868)
leg_line(433, 810, BLUE, 'circle', 'Control', fs=10)
leg_line(433, 820, RED, 'triangle-up', '8-Bromo-AMP (100 µmol/L)', fs=10)
leg_line(433, 832, GREEN, 'circle-open', '8-Bromo-AMP (500 µmol/L)', fs=10)

axes(23, 633, 758, 853, 956, gp(range=[-0.6, 1.5], **BARX),
     gp(range=[0, 500], tickvals=[0, 100, 200, 300, 400, 500]))
bar_tr(23, OCR_LN_BAR_CTRL, OCR_LN_BAR_ERR[0], BLUE, -0.42, 0.27)
bar_tr(23, OCR_LN_BAR_100, OCR_LN_BAR_ERR[1], RED, -0.135, 0.27)
bar_tr(23, OCR_LN_BAR_500, OCR_LN_BAR_ERR[2], GREEN, 0.15, 0.27)
txt(611, 903, 'OCR (pmol/min)', size=11, angle=-90)
txt(662, 967, 'ATP production', size=10.5, angle=-15)
txt(707, 969, 'Maximal respiration', size=10, angle=-15)
txt(660, 927, 'ns', size=10.5)
seg(652, 933, 669, 933, width=1.2)
txt(669, 914, 'ns', size=10.5)
seg(652, 920, 686, 920, width=1.2)
txt(719, 891, '*', size=10.5)
seg(711, 897, 728, 897, width=1.2)
txt(728, 869, '**', size=10.5)
seg(710, 875, 747, 875, width=1.2)
leg_box(626, 812, BLUE, 'Control', fs=9)
leg_box(626, 822, RED, '8-Bromo-AMP (100 µmol/L)', fs=9)
leg_box(626, 833, GREEN, '8-Bromo-AMP (500 µmol/L)', fs=9)

# ======================= LAYOUT =======================
fig.update_layout(width=W, height=H, margin=dict(l=0, r=0, t=0, b=0), paper_bgcolor='white',
                  plot_bgcolor='rgba(0,0,0,0)', showlegend=False, boxmode='group', boxgap=0.2, boxgroupgap=0.3,
                  font=dict(family=FONT, color='black'), annotations=ANN, shapes=SHP, **L)
fig.write_html("out.html")
